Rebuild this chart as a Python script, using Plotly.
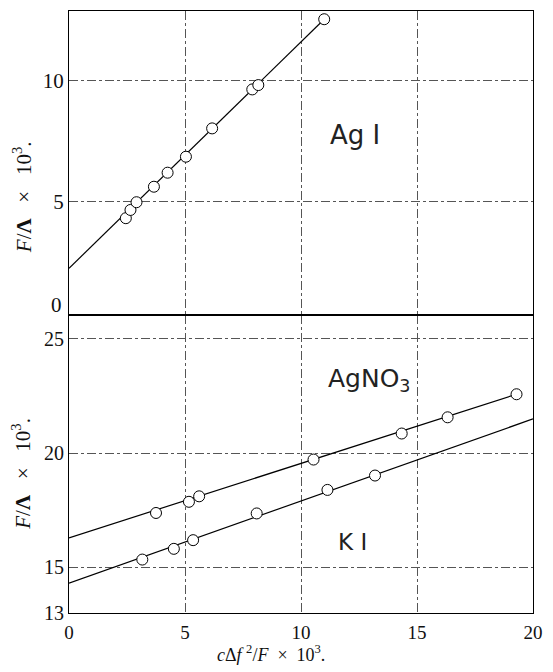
import plotly.graph_objects as go

# ---- data ----
x_ticks = [0, 5, 10, 15, 20]
top_y_ticks = [5, 10]
bottom_y_ticks = [13, 15, 20, 25]

# AgI (top panel)
agi_x = [2.45, 2.65, 2.91, 3.66, 4.25, 5.04, 6.17, 7.90, 8.16, 11.0]
agi_y = [4.33, 4.67, 4.99, 5.63, 6.21, 6.87, 8.04, 9.65, 9.83, 12.55]
agi_fit_x = [0, 11.0]
agi_fit_y = [2.26, 12.55]

# AgNO3 (bottom panel)
agno3_x = [3.75, 5.17, 5.61, 10.54, 14.34, 16.32, 19.29]
agno3_y = [17.38, 17.87, 18.11, 19.72, 20.86, 21.57, 22.58]
agno3_fit_x = [0, 19.29]
agno3_fit_y = [16.29, 22.58]

# KI (bottom panel)
ki_x = [3.16, 4.52, 5.35, 8.09, 11.14, 13.19]
ki_y = [15.34, 15.81, 16.19, 17.36, 18.39, 19.02]
ki_fit_x = [0, 20]
ki_fit_y = [14.31, 21.50]

SERIF = "Times New Roman, Liberation Serif, DejaVu Serif, serif"
SANS = "DejaVu Sans, Liberation Sans, sans-serif"

line_style = dict(color="black", width=1.2)
marker_style = dict(symbol="circle", size=11, color="white",
                    line=dict(color="black", width=1))

fig = go.Figure()

# top panel
fig.add_trace(go.Scatter(x=agi_fit_x, y=agi_fit_y, mode="lines", line=line_style,
                         xaxis="x2", yaxis="y2", showlegend=False, hoverinfo="skip"))
fig.add_trace(go.Scatter(x=agi_x, y=agi_y, mode="markers", marker=marker_style,
                         xaxis="x2", yaxis="y2", showlegend=False, name="AgI"))

# bottom panel
fig.add_trace(go.Scatter(x=agno3_fit_x, y=agno3_fit_y, mode="lines", line=line_style,
                         xaxis="x", yaxis="y", showlegend=False, hoverinfo="skip"))
fig.add_trace(go.Scatter(x=agno3_x, y=agno3_y, mode="markers", marker=marker_style,
                         xaxis="x", yaxis="y", showlegend=False, name="AgNO3"))
fig.add_trace(go.Scatter(x=ki_fit_x, y=ki_fit_y, mode="lines", line=line_style,
                         xaxis="x", yaxis="y", showlegend=False, hoverinfo="skip"))
fig.add_trace(go.Scatter(x=ki_x, y=ki_y, mode="markers", marker=marker_style,
                         xaxis="x", yaxis="y", showlegend=False, name="KI"))

grid = dict(showgrid=True, gridcolor="#555", gridwidth=1, griddash="dashdot",
            zeroline=False, showline=True, mirror=True, linecolor="black",
            linewidth=1.2, ticks="")

# the page body has an 8 px default margin, so the figure is sized to fit inside it
W, H = 545, 664
ML, MR, MT, MB = 61, 20, 3, 59
split = 0.495
fig.update_layout(
    width=W, height=H,
    paper_bgcolor="white", plot_bgcolor="white",
    margin=dict(l=ML, r=MR, t=MT, b=MB, autoexpand=False),
    xaxis=dict(domain=[0, 1], anchor="y", range=[0, 20], tickvals=x_ticks,
               tickfont=dict(family=SERIF, size=19, color="#111"),
               ticklabelstandoff=2, **grid),
    yaxis=dict(domain=[0, split], anchor="x", range=[13, 26.05],
               tickvals=bottom_y_ticks,
               tickfont=dict(family=SERIF, size=20, color="#111"), **grid),
    xaxis2=dict(domain=[0, 1], anchor="y2", range=[0, 20], tickvals=x_ticks,
                showticklabels=False, matches="x", **grid),
    yaxis2=dict(domain=[split, 1], anchor="x2", range=[0.33, 12.89],
                tickvals=top_y_ticks,
                tickfont=dict(family=SERIF, size=21, color="#111"), **grid),
)

pw = W - ML - MR
ann = []
# compound labels
ann.append(dict(text="Ag I", x=12.33, y=7.77, xref="x2", yref="y2", showarrow=False,
                font=dict(family=SANS, size=26, color="#222")))
ann.append(dict(text="AgNO<sub>3</sub>", x=12.97, y=23.2, xref="x", yref="y",
                showarrow=False, font=dict(family=SANS, size=25, color="#222")))
ann.append(dict(text="K I", x=12.2, y=16.1, xref="x", yref="y", showarrow=False,
                font=dict(family=SANS, size=23, color="#222")))
# zero label of top panel
ann.append(dict(text="0", x=0, y=0.74, xref="paper", yref="y2", xanchor="right",
                xshift=-5, showarrow=False,
                font=dict(family=SERIF, size=21, color="#111")))
# y titles
ytitle = "<i>F</i>/<b>Λ</b>   ×   10<sup>3</sup>."
for yr, yv in (("y2", 5.2), ("y", 19.1)):
    ann.append(dict(text=ytitle, x=-(69 - 22) / pw, y=yv, xref="paper", yref=yr,
                    xanchor="center", showarrow=False, textangle=-90,
                    font=dict(family=SERIF, size=21, color="#111")))
# x title
ann.append(dict(text="<i>c</i>Δ<i>f</i> <sup>2</sup>/<i>F</i>  ×  10<sup>3</sup>.",
                x=8.7, y=0, xref="x", yref="paper", yanchor="middle", yshift=-40,
                showarrow=False, font=dict(family=SERIF, size=18, color="#111")))
fig.update_layout(annotations=ann)

fig.write_html("out.html")
